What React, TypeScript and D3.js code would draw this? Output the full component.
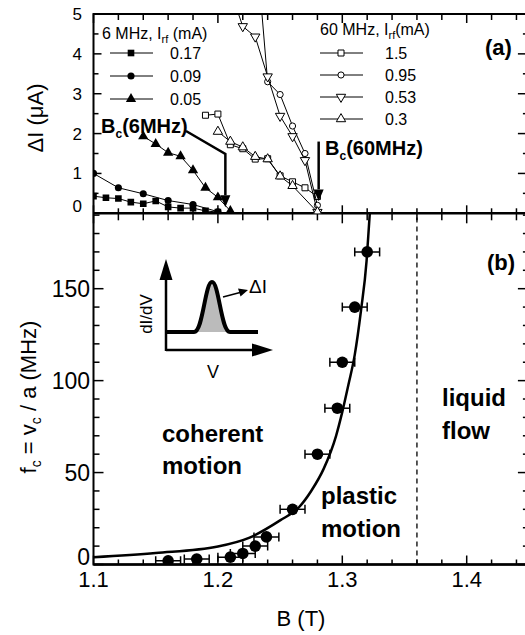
import React from "react";
import * as d3 from "d3";

// ---- panel (a): ΔI (µA) vs B (T) ----
// 6 MHz, Irf = 0.17 mA
const bA017 = [1.1, 1.11, 1.12, 1.13, 1.14, 1.15, 1.16, 1.17, 1.18, 1.19, 1.2];
const dIA017 = [0.43, 0.39, 0.37, 0.28, 0.24, 0.31, 0.16, 0.13, 0.13, 0.06, 0.03];
// 6 MHz, 0.09 mA
const bA009 = [1.1, 1.12, 1.14, 1.16, 1.18, 1.2];
const dIA009 = [1.0, 0.64, 0.49, 0.32, 0.22, 0.04];
// 6 MHz, 0.05 mA
const bA005 = [1.14, 1.15, 1.16, 1.17, 1.18, 1.19, 1.2, 1.21];
const dIA005 = [1.93, 1.74, 1.52, 1.43, 1.08, 0.64, 0.4, 0.06];
// 60 MHz, 1.5 mA
const bB15 = [1.19, 1.2, 1.21, 1.22, 1.23, 1.24, 1.25, 1.26, 1.27, 1.28];
const dIB15 = [2.46, 2.49, 1.72, 1.62, 1.36, 1.37, 0.94, 0.79, 0.64, 0.42];
// 60 MHz, 0.95 mA
const bB095 = [1.23, 1.24, 1.25, 1.26, 1.27, 1.28];
const dIB095 = [7.0, 3.3, 2.98, 2.19, 1.5, 0.2];
// 60 MHz, 0.53 mA
const bB053 = [1.21, 1.22, 1.23, 1.24, 1.25, 1.26, 1.27, 1.28];
const dIB053 = [5.6, 4.69, 4.43, 3.43, 2.44, 1.93, 1.33, 0.03];
// 60 MHz, 0.3 mA
const bB03 = [1.2, 1.21, 1.22, 1.23, 1.24, 1.25, 1.26, 1.28];
const dIB03 = [2.05, 1.8, 1.66, 1.42, 1.36, 0.93, 0.69, 0.03];

// ---- panel (b): fc vs B ----
const bFc = [1.16, 1.183, 1.21, 1.22, 1.23, 1.239, 1.26, 1.28, 1.296, 1.3, 1.31, 1.32];
const fc = [2, 3, 4, 6, 10, 15, 30, 60, 85, 110, 140, 170];
const bErr = 0.01;
// fitted curve
const bFit = [1.1, 1.15, 1.2, 1.225, 1.25, 1.265, 1.275, 1.285, 1.295, 1.3, 1.305, 1.31, 1.315, 1.3195, 1.3215, 1.3225];
const fFit = [4.0, 6.3, 9.8, 14.5, 24, 31, 40, 52, 70, 83, 98, 114, 138, 165, 185, 195];

const bMelt = 1.36;
const bc6 = 1.206;
const bc60 = 1.281;

const xMajor = [1.1, 1.2, 1.3, 1.4];
const yAMajor = [0, 1, 2, 3, 4, 5];
const yBMajor = [0, 50, 100, 150];

const FONT = "'Liberation Sans', Arial, Helvetica, sans-serif";

type Shape = "square" | "circle" | "triangle" | "triangleDown";
const symTypes: Record<Shape, d3.SymbolType> = {
  square: d3.symbolSquare,
  circle: d3.symbolCircle,
  triangle: d3.symbolTriangle,
  triangleDown: d3.symbolTriangle,
};

const series6 = [
  { label: "0.17", b: bA017, v: dIA017, shape: "square" as Shape },
  { label: "0.09", b: bA009, v: dIA009, shape: "circle" as Shape },
  { label: "0.05", b: bA005, v: dIA005, shape: "triangle" as Shape },
];
const series60 = [
  { label: "1.5", b: bB15, v: dIB15, shape: "square" as Shape },
  { label: "0.95", b: bB095, v: dIB095, shape: "circle" as Shape },
  { label: "0.53", b: bB053, v: dIB053, shape: "triangleDown" as Shape },
  { label: "0.3", b: bB03, v: dIB03, shape: "triangle" as Shape },
];

function Marker({ cx, cy, shape, filled }: { cx: number; cy: number; shape: Shape; filled: boolean }) {
  const sizes: Record<Shape, number> = filled
    ? { square: 44, circle: 40, triangle: 46, triangleDown: 46 }
    : { square: 36, circle: 30, triangle: 38, triangleDown: 38 };
  const d = d3.symbol().type(symTypes[shape]).size(sizes[shape])() || "";
  const rot = shape === "triangleDown" ? " rotate(180)" : "";
  return (
    <path
      d={d}
      transform={`translate(${cx},${cy})${rot}`}
      fill={filled ? "#000" : "#fff"}
      stroke="#000"
      strokeWidth={filled ? 0 : 1}
    />
  );
}

export default function App() {
  const L = 93.5;
  const R = 528.9;
  const topA = 14;
  const midY = 213.3;
  const botY = 564.5;

  const x = d3.scaleLinear().domain([1.1, 1.45]).range([L, R]);
  const yA = d3.scaleLinear().domain([0, 5]).range([midY, topA]);
  const yB = d3.scaleLinear().domain([0, 191]).range([botY, midY]);

  const xTicks = d3.range(0, 18).map((i) => 1.1 + i * 0.02);
  const isMajX = (b: number) => Math.abs(b * 10 - Math.round(b * 10)) < 1e-6;
  const yATicks = d3.range(0, 11).map((i) => i * 0.5);
  const yBTicks = d3.range(0, 20).map((i) => i * 10);

  const lineA = (b: number[], v: number[]) =>
    d3.line<number>().x((_, i) => x(b[i])).y((d) => yA(d))(v) || "";

  const fitPath =
    d3
      .line<number>()
      .x((_, i) => x(bFit[i]))
      .y((d) => yB(d))
      .curve(d3.curveMonotoneX)(fFit) || "";

  const tk = "#000";

  return (
    <svg
      width={525}
      height={635}
      style={{ position: "absolute", left: 0, top: 0, background: "#fff" }}
      fontFamily={FONT}
    >
      <defs>
        <clipPath id="clipA">
          <rect x={L} y={topA} width={R - L} height={midY - topA} />
        </clipPath>
        <clipPath id="clipB">
          <rect x={L} y={midY} width={R - L} height={botY - midY} />
        </clipPath>
      </defs>
      <rect x={0} y={0} width={525} height={635} fill="#fff" />

      {/* ---------- frames ---------- */}
      <rect x={L} y={topA} width={R - L} height={botY - topA} fill="none" stroke="#000" strokeWidth={2} />
      <line x1={L} x2={R} y1={midY} y2={midY} stroke="#000" strokeWidth={2.5} />
      <line x1={L} x2={R} y1={botY} y2={botY} stroke="#000" strokeWidth={2.5} />

      {/* x ticks */}
      {xTicks.map((b, i) => {
        const px = x(b);
        const maj = isMajX(b);
        return (
          <g key={"xt" + i} stroke={tk} strokeWidth={1.5}>
            <line x1={px} x2={px} y1={topA} y2={topA + (maj ? 9 : 6)} />
            <line x1={px} x2={px} y1={midY} y2={midY - (maj ? 8 : 5)} />
            <line x1={px} x2={px} y1={midY} y2={midY + (maj ? 10 : 7)} />
            <line x1={px} x2={px} y1={botY} y2={botY - (maj ? 9 : 5)} />
          </g>
        );
      })}
      {/* y ticks panel a */}
      {yATicks.map((v, i) => {
        const py = yA(v);
        const maj = Number.isInteger(v);
        return (
          <g key={"ya" + i} stroke={tk} strokeWidth={1.5}>
            <line x1={L} x2={L + (maj ? 8 : 5)} y1={py} y2={py} />
            <line x1={R} x2={R - (maj ? 11 : 6)} y1={py} y2={py} />
          </g>
        );
      })}
      {/* y ticks panel b */}
      {yBTicks.map((v, i) => {
        const py = yB(v);
        const maj = v % 50 === 0;
        return (
          <g key={"yb" + i} stroke={tk} strokeWidth={1.5}>
            <line x1={L} x2={L + (maj ? 10 : 6)} y1={py} y2={py} />
            <line x1={R} x2={R - (maj ? 11 : 6)} y1={py} y2={py} />
          </g>
        );
      })}

      {/* tick labels */}
      {yAMajor.map((v) => (
        <text key={"la" + v} x={82} y={yA(v) + (v === 0 ? -1 : 6)} fontSize={17} textAnchor="end">
          {v}
        </text>
      ))}
      {yBMajor.map((v) => (
        <text key={"lb" + v} x={90} y={yB(v) + (v === 0 ? 0 : 8)} fontSize={23} textAnchor="end">
          {v}
        </text>
      ))}
      {xMajor.map((b) => (
        <text key={"lx" + b} x={x(b)} y={587} fontSize={22} textAnchor="middle">
          {b.toFixed(1)}
        </text>
      ))}

      {/* axis titles */}
      <text transform="translate(43,118) rotate(-90)" fontSize={22} textAnchor="middle">
        ΔI (μA)
      </text>
      <text transform="translate(36,397) rotate(-90)" fontSize={22} textAnchor="middle">
        f<tspan fontSize={14} dy={5}>c</tspan>
        <tspan dy={-5}> = v</tspan>
        <tspan fontSize={14} dy={5}>c</tspan>
        <tspan dy={-5}> / a (MHz)</tspan>
      </text>
      <text x={301} y={626} fontSize={22} textAnchor="middle">
        B (T)
      </text>

      {/* ---------- panel (a) data ---------- */}
      <g clipPath="url(#clipA)">
        {series6.map((s) => (
          <g key={"s6" + s.label}>
            <path d={lineA(s.b, s.v)} fill="none" stroke="#000" strokeWidth={1} />
            {s.b.map((b, i) => (
              <Marker key={i} cx={x(b)} cy={yA(s.v[i])} shape={s.shape} filled />
            ))}
          </g>
        ))}
        {series60.map((s) => (
          <g key={"s60" + s.label}>
            <path d={lineA(s.b, s.v)} fill="none" stroke="#000" strokeWidth={1} />
            {s.b.map((b, i) => (
              <Marker key={i} cx={x(b)} cy={yA(s.v[i])} shape={s.shape} filled={false} />
            ))}
          </g>
        ))}
      </g>

      {/* legends (a) */}
      <text x={102} y={39} fontSize={16}>
        6 MHz, I<tspan fontSize={11} dy={4}>rf</tspan>
        <tspan dy={-4}> (mA)</tspan>
      </text>
      {series6.map((s, i) => {
        const cy = 53 + i * 23;
        return (
          <g key={"lg6" + i}>
            <line x1={110} x2={153} y1={cy} y2={cy} stroke="#000" strokeWidth={1} />
            <Marker cx={131} cy={cy} shape={s.shape} filled />
            <text x={170} y={cy + 6} fontSize={16}>
              {s.label}
            </text>
          </g>
        );
      })}
      <text x={320} y={35} fontSize={16}>
        60 MHz, I<tspan fontSize={11} dy={4}>rf</tspan>
        <tspan dy={-4}>(mA)</tspan>
      </text>
      {series60.map((s, i) => {
        const cy = 53 + i * 22;
        return (
          <g key={"lg60" + i}>
            <line x1={320} x2={363} y1={cy} y2={cy} stroke="#000" strokeWidth={1} />
            <Marker cx={341} cy={cy} shape={s.shape} filled={false} />
            <text x={385} y={cy + 6} fontSize={16}>
              {s.label}
            </text>
          </g>
        );
      })}

      {/* Bc annotations */}
      <text x={101} y={133} fontSize={20} fontWeight="bold">
        B<tspan fontSize={12} dy={5}>c</tspan>
        <tspan dy={-5}>(6MHz)</tspan>
      </text>
      <path
        d={`M186,131 L${x(bc6)},154 L${x(bc6)},${yA(0.45)}`}
        fill="none"
        stroke="#000"
        strokeWidth={2.5}
      />
      <polygon
        points={`${x(bc6) - 5},${yA(0.45)} ${x(bc6) + 5},${yA(0.45)} ${x(bc6)},${yA(0.15)}`}
        fill="#000"
      />
      <text x={325} y={155} fontSize={20} fontWeight="bold">
        B<tspan fontSize={12} dy={5}>c</tspan>
        <tspan dy={-5}>(60MHz)</tspan>
      </text>
      <line x1={x(bc60)} x2={x(bc60)} y1={yA(1.8)} y2={yA(0.6)} stroke="#000" strokeWidth={2.5} />
      <polygon
        points={`${x(bc60) - 5},${yA(0.6)} ${x(bc60) + 5},${yA(0.6)} ${x(bc60)},${yA(0.3)}`}
        fill="#000"
      />

      <text x={485} y={55} fontSize={22} fontWeight="bold">
        (a)
      </text>

      {/* ---------- panel (b) ---------- */}
      <line
        x1={x(bMelt)}
        x2={x(bMelt)}
        y1={yB(0)}
        y2={yB(191)}
        stroke="#000"
        strokeWidth={1.3}
        strokeDasharray="5,4"
      />
      <g clipPath="url(#clipB)">
        <path d={fitPath} fill="none" stroke="#000" strokeWidth={2.5} />
        {bFc.map((b, i) => {
          const py = yB(fc[i]);
          return (
            <g key={"fc" + i}>
              <g stroke="#000" strokeWidth={1.5}>
                <line x1={x(b - bErr)} x2={x(b + bErr)} y1={py} y2={py} />
                <line x1={x(b - bErr)} x2={x(b - bErr)} y1={py - 4.5} y2={py + 4.5} />
                <line x1={x(b + bErr)} x2={x(b + bErr)} y1={py - 4.5} y2={py + 4.5} />
              </g>
              <circle cx={x(b)} cy={py} r={5.8} fill="#000" />
            </g>
          );
        })}
      </g>

      <text x={487} y={270} fontSize={22} fontWeight="bold">
        (b)
      </text>
      <g fontSize={24} fontWeight="bold">
        <text x={162} y={442}>coherent</text>
        <text x={162} y={474}>motion</text>
        <text x={321} y={504}>plastic</text>
        <text x={321} y={537}>motion</text>
        <text x={442} y={406}>liquid</text>
        <text x={442} y={439}>flow</text>
      </g>

      {/* inset: dI/dV sketch */}
      <g>
        <path
          d="M194,332 C203,332 205,282 212,282 C219,282 221,332 230,332 Z"
          fill="#bbb"
        />
        <path
          d="M167,332 L194,332 C203,332 205,282 212,282 C219,282 221,332 230,332 L258,332"
          fill="none"
          stroke="#000"
          strokeWidth={4}
        />
        <line x1={166} x2={166} y1={351} y2={278} stroke="#000" strokeWidth={2.5} />
        <polygon points="159.5,280 172.5,280 166,259" fill="#000" />
        <line x1={166} x2={254} y1={350} y2={350} stroke="#000" strokeWidth={2.5} />
        <polygon points="252,343.5 252,356.5 273,350" fill="#000" />
        <line x1={223} x2={240} y1={297} y2={292.5} stroke="#000" strokeWidth={1.5} />
        <polygon points="238,288.5 240.5,296.5 248,290" fill="#000" />
        <text x={249} y={293} fontSize={19}>
          ΔI
        </text>
        <text transform="translate(152,314) rotate(-90)" fontSize={17} textAnchor="middle">
          dI/dV
        </text>
        <text x={213} y={378} fontSize={18} textAnchor="middle">
          V
        </text>
      </g>
    </svg>
  );
}
